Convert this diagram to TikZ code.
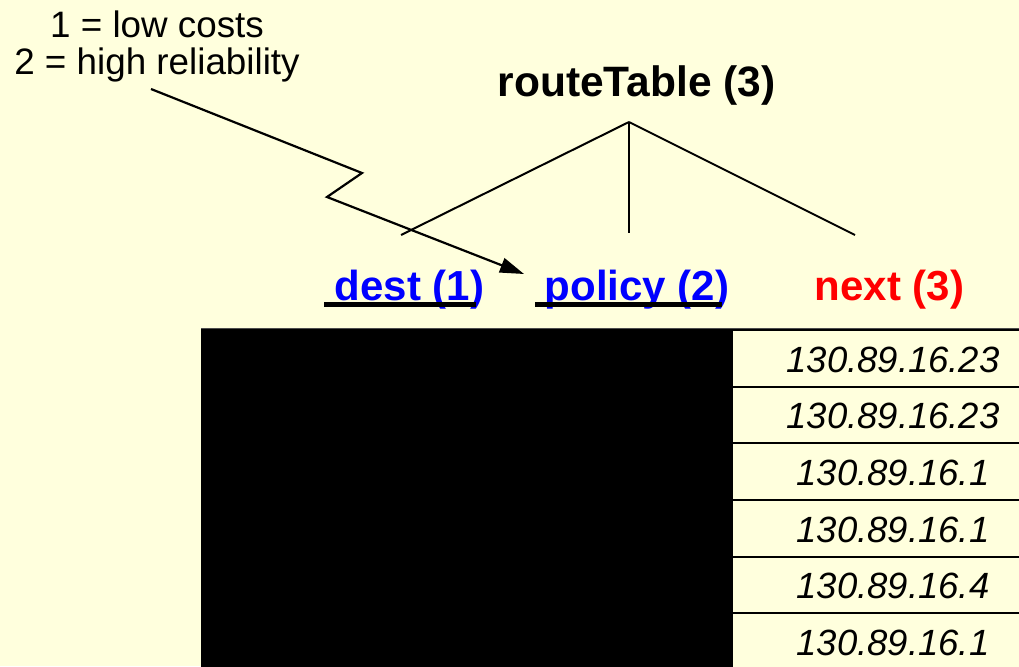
\documentclass[tikz,border=0pt]{standalone}
\usepackage{fontspec}
\setmainfont{Liberation Sans}
\usetikzlibrary{arrows.meta}
\definecolor{paper}{RGB}{255,255,221}
\definecolor{hdblue}{RGB}{0,0,255}
\definecolor{hdred}{RGB}{255,0,0}
\begin{document}
\begin{tikzpicture}[x=1pt,y=-1pt,
  note/.style={anchor=base,inner sep=0pt,font=\fontsize{36.8}{37}\selectfont},
  title/.style={anchor=base,inner sep=0pt,font=\fontsize{42}{42}\selectfont\bfseries},
  ipaddr/.style={anchor=base,inner sep=0pt,font=\fontsize{36.5}{37}\selectfont\itshape},
  link/.style={line width=2pt},
  uline/.style={line width=5pt},
  cell/.style={draw=black,line width=2pt,fill=paper}]
  % page
  \fill[paper] (0,0) rectangle (1019,666);
  \useasboundingbox (0,0) rectangle (1019,666);

  % legend
  \node[note] (note1) at (157,38) {1 = low costs};
  \node[note] (note2) at (157,75) {2 = high reliability};

  % record header and fields
  \node[title,font=\fontsize{42.5}{43}\selectfont\bfseries] (rt) at (636.5,97) {routeTable (3)};
  \node[title,text=hdblue] (dest) at (409.5,300) {dest (1)};
  \node[title,text=hdblue] (policy) at (637,300) {policy (2)};
  \node[title,text=hdred] (next) at (889.5,300) {next (3)};

  % key underlines
  \draw[uline] (324,304) -- (476,304);
  \draw[uline] (535,304) -- (722,304);

  % tree from the record to its fields
  \coordinate (apex) at (629,122);
  \coordinate (tl) at (401,235);
  \coordinate (tm) at (629,233);
  \coordinate (tr) at (855,235);
  \draw[link] (apex) -- (tl);
  \draw[link] (apex) -- (tm);
  \draw[link] (apex) -- (tr);

  % pointer from the legend to the policy field
  \coordinate (ptrstart) at (151,89);
  \coordinate (ptrend) at (524,274);
  \draw[line width=2.2pt,-{Triangle[length=24pt,width=15pt]}]
    (ptrstart) -- (362,173) -- (327,197) -- (ptrend);

  % table
  \draw[line width=1pt,black!70] (201,328.5) -- (1019,328.5);
  \fill[black] (201,329) rectangle (732,670);
  \foreach \i/\ip in {0/130.89.16.23,1/130.89.16.23,2/130.89.16.1,3/130.89.16.1,4/130.89.16.4,5/130.89.16.1}{
    \draw[cell] (732,330+56.67*\i) rectangle (1030,330+56.67*\i+56.67);
    \node[ipaddr] (row\i) at (893,372+56.67*\i) {\ip};
  }
\end{tikzpicture}
\end{document}
